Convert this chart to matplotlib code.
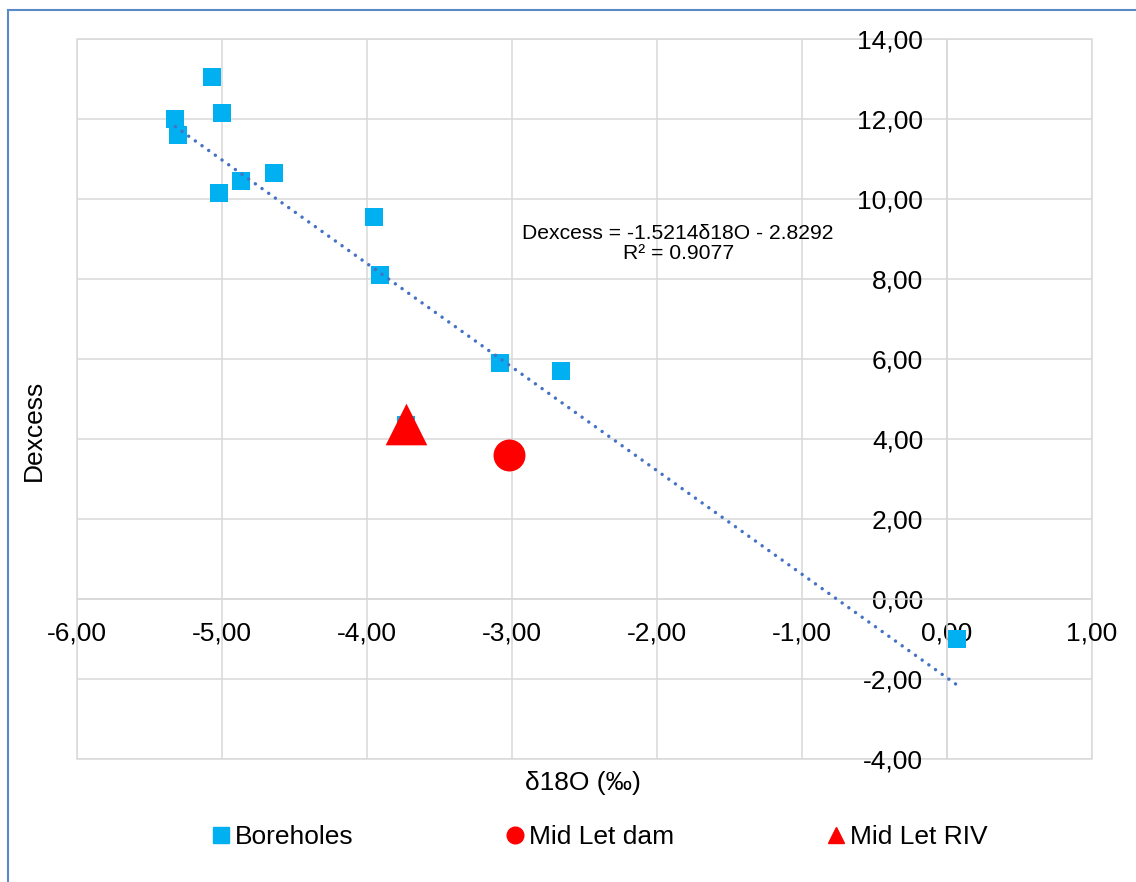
import matplotlib
matplotlib.use("Agg")
import matplotlib.pyplot as plt
import numpy as np
from matplotlib.ticker import FuncFormatter
from matplotlib.lines import Line2D
from matplotlib.patches import Rectangle

plt.rcParams['font.family'] = ['Liberation Sans', 'DejaVu Sans']

# Borehole samples: delta 18O (permil) and deuterium excess
borehole_d18o = [-5.07, -5.00, -5.32, -5.30, -4.87, -4.64, -5.02,
                 -3.95, -3.91, -3.08, -2.66, -3.73, 0.07]
borehole_dex = [13.06, 12.14, 11.99, 11.59, 10.46, 10.64, 10.14,
                9.56, 8.11, 5.89, 5.71, 4.36, -1.01]

# Surface water samples
dam_d18o = [-3.02]
dam_dex = [3.60]
riv_d18o = [-3.73]
riv_dex = [4.37]

# Linear trendline through the borehole samples
trend_slope = -2.59
trend_intercept = -1.97
trend_label = "Dexcess = -1.5214δ18O - 2.8292\nR² = 0.9077"

series_names = ["Boreholes", "Mid Let dam", "Mid Let RIV"]
x_title = "δ18O (‰)"
y_title = "Dexcess"

x_ticks = np.arange(-6, 1.01, 1)
y_ticks = np.arange(-4, 14.01, 2)

W, H = 1136, 882
fig = plt.figure(figsize=(W / 100, H / 100), dpi=100)
ax = fig.add_axes([76.7 / W, 1 - 759 / H, (1092 - 76.7) / W, (759 - 39) / H])

grid_col = '#D9D9D9'
ax.set_xlim(-6, 1)
ax.set_ylim(-4, 14)
ax.set_xticks(x_ticks)
ax.set_yticks(y_ticks)
ax.grid(True, color=grid_col, lw=1.1, zorder=0)
ax.set_axisbelow(True)

fmt = FuncFormatter(lambda v, p: f"{v:.2f}".replace('.', ','))
ax.xaxis.set_major_formatter(fmt)
ax.yaxis.set_major_formatter(fmt)

for side in ['top', 'right']:
    ax.spines[side].set_visible(False)
ax.spines['left'].set_position(('data', 0))
ax.spines['bottom'].set_position(('data', 0))
for side in ['left', 'bottom']:
    ax.spines[side].set_color(grid_col)
    ax.spines[side].set_linewidth(1.1)
ax.add_patch(Rectangle((0, 0), 1, 1, transform=ax.transAxes, fill=False,
                       edgecolor=grid_col, lw=1.1, zorder=0.5, clip_on=False))

ax.tick_params(axis='both', length=0, labelsize=19, colors='black')
ax.tick_params(axis='y', pad=17)
ax.tick_params(axis='x', pad=16)

# Markers
ax.scatter(borehole_d18o, borehole_dex, marker='s', s=12.4 ** 2,
           color='#00B0F0', linewidths=0, zorder=3)
ax.scatter(dam_d18o, dam_dex, marker='o', s=23 ** 2,
           color='#FF0000', linewidths=0, zorder=3)
ax.scatter(riv_d18o, riv_dex, marker='^', s=30 ** 2,
           color='#FF0000', linewidths=0, zorder=4)

# Trendline across the borehole range
tx = np.array([min(borehole_d18o), max(borehole_d18o)])
ty = trend_slope * tx + trend_intercept
ax.plot(tx, ty, color='#4472C4', lw=2.5, linestyle=(0, (0.01, 2.35)),
        dash_capstyle='round', zorder=5)

ax.text(-1.853, 8.89, trend_label, ha='center', va='center',
        multialignment='center', fontsize=15.2, linespacing=1.1, zorder=6)

# Axis titles
ax.set_xlabel(x_title, fontsize=19)
ax.set_ylabel(y_title, fontsize=19)
ax.xaxis.set_label_coords(0.4987, -0.033)
ax.xaxis.label.set_va('center')
ax.yaxis.set_label_coords(-0.042, 0.456)
ax.yaxis.label.set_va('center')

# Legend
handles = [
    Line2D([], [], marker='s', color='#00B0F0', lw=0, markersize=12),
    Line2D([], [], marker='o', color='#FF0000', lw=0, markersize=12),
    Line2D([], [], marker='^', color='#FF0000', lw=0, markersize=12),
]
fig.legend(handles, series_names, loc='center', bbox_to_anchor=(600 / W, 1 - 837 / H),
           ncol=3, frameon=False, fontsize=19, handlelength=0.6,
           handletextpad=0.23, columnspacing=5.83, borderpad=0)

# Chart area border
fig.add_artist(Rectangle((8 / W, -0.05), 1.2, 1 - 10 / H + 0.05,
                         transform=fig.transFigure, fill=False,
                         edgecolor='#5A8AC6', lw=1.5))

fig.savefig("out.png", dpi=100)
